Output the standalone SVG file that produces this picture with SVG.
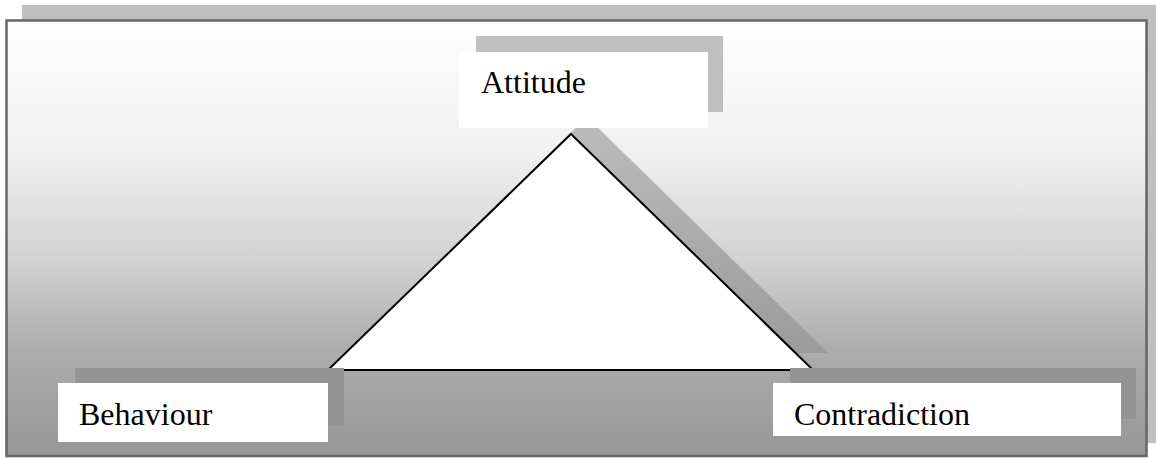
<svg xmlns="http://www.w3.org/2000/svg" width="1156" height="458" viewBox="0 0 1156 458">
  <defs>
    <linearGradient id="bg" x1="0" y1="19" x2="0" y2="457" gradientUnits="userSpaceOnUse">
      <stop offset="0" stop-color="#ffffff"/>
      <stop offset="0.3" stop-color="#f1f1f1"/>
      <stop offset="0.55" stop-color="#d2d2d2"/>
      <stop offset="0.75" stop-color="#adadad"/>
      <stop offset="1" stop-color="#969696"/>
    </linearGradient>
    <linearGradient id="triShadow" x1="0" y1="117" x2="0" y2="353" gradientUnits="userSpaceOnUse">
      <stop offset="0" stop-color="#bcbcbc"/>
      <stop offset="1" stop-color="#9b9b9b"/>
    </linearGradient>
    <style>
      .label { font-family: "Liberation Serif", "Times New Roman", serif; font-size: 32px; fill: #000000; }
      .box { fill: #ffffff; }
      .shadowLight { fill: #bfbfbf; }
      .shadowDark { fill: #949494; }
    </style>
  </defs>

  <g id="frame">
    <rect x="22" y="5" width="1134" height="438" fill="#bfbfbf"/>
    <rect x="6.5" y="20.5" width="1140" height="435.5" fill="url(#bg)" stroke="#666666" stroke-width="2.5"/>
  </g>

  <g id="connectors">
    <polygon points="587,117 828,353 345,353" fill="url(#triShadow)"/>
    <polygon points="571,134 813,370 328,370" fill="#ffffff" stroke="#000000" stroke-width="2" stroke-linejoin="miter"/>
  </g>

  <g id="node-attitude">
    <rect class="shadowLight" x="476" y="36" width="247" height="76"/>
    <rect class="box" x="459" y="52" width="249" height="76"/>
    <text class="label" x="481" y="93">Attitude</text>
  </g>

  <g id="node-behaviour">
    <rect class="shadowDark" x="75" y="368" width="269" height="58"/>
    <rect class="box" x="58" y="383" width="270" height="59"/>
    <text class="label" x="79" y="425">Behaviour</text>
  </g>

  <g id="node-contradiction">
    <rect class="shadowDark" x="790" y="368" width="346" height="51"/>
    <rect class="box" x="773" y="383" width="348" height="53"/>
    <text class="label" x="794" y="425">Contradiction</text>
  </g>
</svg>
